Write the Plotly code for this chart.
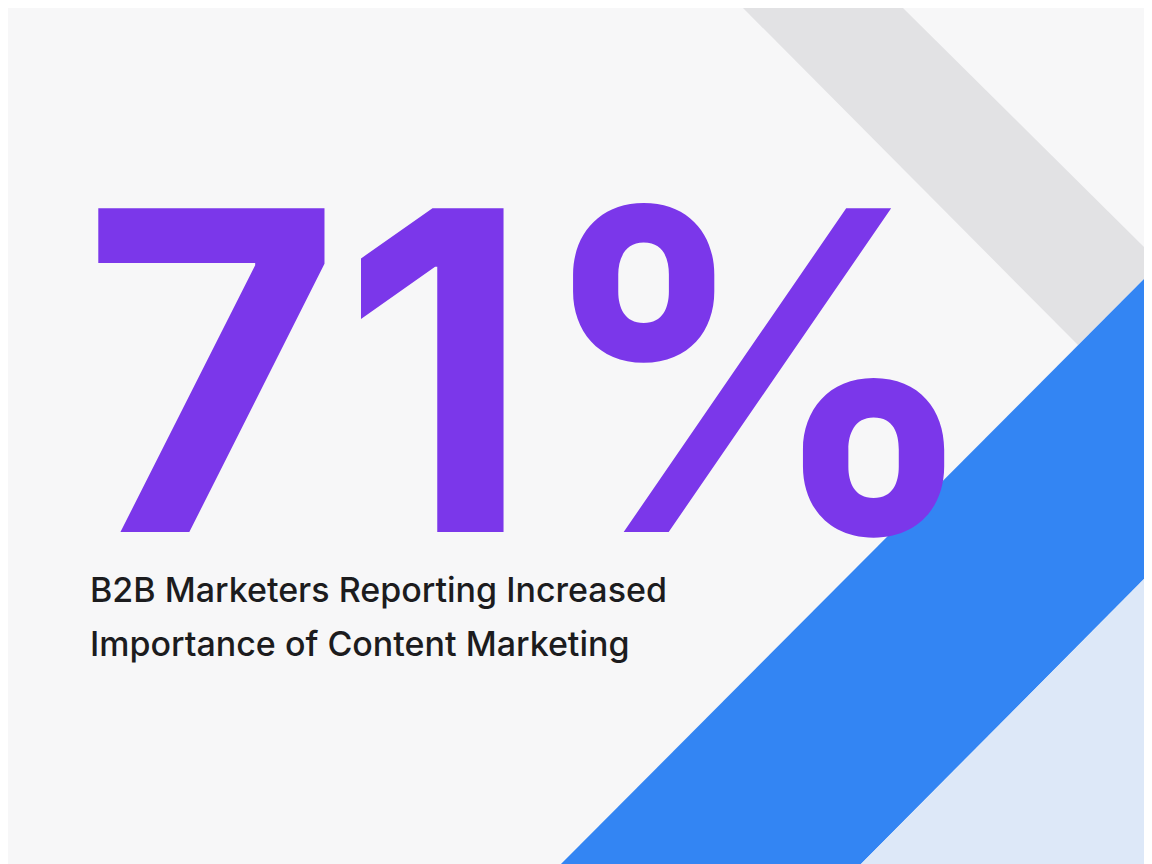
import plotly.graph_objects as go

# Data
stat_value = "71%"
stat_label = ["B2B Marketers Reporting Increased", "Importance of Content Marketing"]

W, H = 1152, 864

fig = go.Figure()

# decorative bands (pixel coords, y downward)
gray_band = "M 735 0 L 895 0 L 1152 255 L 1070 337 Z"
blue_band = "M 1152 255 L 1152 555 L 845 864 L 545 864 Z"
light_band = "M 1152 555 L 1152 864 L 845 864 Z"
for path, col in [(gray_band, "#e2e2e4"), (blue_band, "#3385f3"), (light_band, "#dde8f8")]:
    fig.add_shape(type="path", path=path, xref="x", yref="y",
                  fillcolor=col, line_width=0, layer="below")

fig.add_annotation(x=72, y=362, xref="x", yref="y", text="<b>" + stat_value + "</b>",
                   showarrow=False, xanchor="left", yanchor="middle",
                   font=dict(family="Liberation Sans Narrow, Inter", size=445, color="#7b37ea"))

for i, line in enumerate(stat_label):
    fig.add_annotation(x=80, y=581 + i * 54, xref="x", yref="y", text=line,
                       showarrow=False, xanchor="left", yanchor="middle",
                       font=dict(family="Inter", size=34, color="#1c1c1e", weight=500))

fig.update_xaxes(range=[0, W], visible=False, fixedrange=True)
fig.update_yaxes(range=[H, 0], visible=False, fixedrange=True)
fig.update_layout(width=W, height=H, margin=dict(l=0, r=0, t=0, b=0),
                  paper_bgcolor="#f7f7f8", plot_bgcolor="#f7f7f8", showlegend=False)

fig.write_html("out.html")
